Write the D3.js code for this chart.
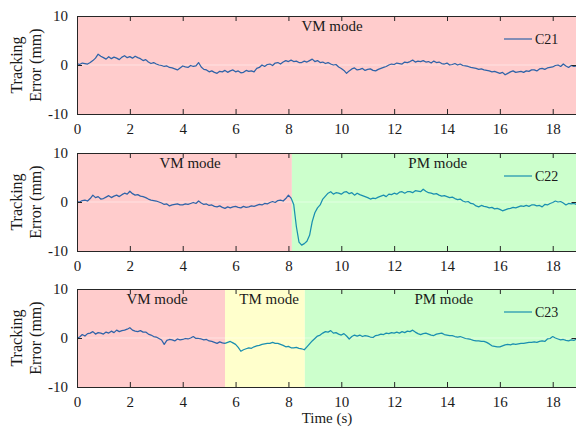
<!DOCTYPE html>
<html><head><meta charset="utf-8">
<script src="https://cdn.jsdelivr.net/npm/d3@7"></script>
<style>
body{margin:0;background:#fff}
svg{display:block}
text{font-family:"Liberation Serif","Times New Roman",serif;fill:#1a1a1a}
</style>
</head><body>
<svg id="chart" width="576" height="428"></svg>
<script>
// ---------- data ----------
const timeStep = 0.1;            // sampling interval (s)
const xTicks = [0, 2, 4, 6, 8, 10, 12, 14, 16, 18];
const yTicks = [-10, 0, 10];
const seriesNames = ["C21", "C22", "C23"];

const c21 = [
  0.3, 0.1, 0.4, 0.3, 0.2, 0.5, 0.9, 1.4, 2.2, 1.8,
  1.5, 1.2, 1.7, 1.3, 1.6, 1.4, 1.1, 1.6, 1.9, 1.5,
  1.7, 1.4, 1.8, 1.5, 1.3, 0.9, 1.1, 0.6, 0.3, 0.5,
  0.2, 0.0, -0.1, -0.3, -0.2, -0.5, -0.6, -0.8, -1.0, -0.6,
  -0.2, -0.4, -0.5, -0.1, -0.3, -0.2, 0.5, -0.4, -0.9, -1.0,
  -1.4, -1.2, -1.5, -1.7, -1.3, -1.4, -1.1, -1.5, -1.2, -1.0,
  -1.4, -1.2, -1.6, -1.5, -1.1, -1.3, -1.2, -1.4, -0.7, -0.5,
  0.0, -0.3, 0.1, 0.2, -0.1, 0.4, 0.5, 0.2, 0.6, 0.9,
  0.7, 1.0, 0.7, 0.8, 0.5, 0.5, 0.8, 0.6, 0.9, 1.2,
  0.7, 0.9, 0.5, 0.6, 0.3, 0.5, 0.2, 0.0, 0.1, -0.4,
  -0.7, -1.1, -1.7, -1.2, -0.8, -0.6, -1.0, -0.9, -0.7, -1.1,
  -0.9, -0.8, -1.1, -1.2, -0.9, -0.7, -0.5, -0.3, 0.0, 0.2,
  0.1, 0.4, 0.3, 0.2, 0.6, 0.5, 0.7, 1.0, 0.6, 0.8,
  0.7, 0.9, 0.6, 0.7, 0.4, 0.8, 0.5, 0.6, 0.3, 0.2,
  0.4, 0.0, 0.1, 0.3, 0.0, 0.2, -0.1, -0.2, -0.3, -0.5,
  -0.6, -0.7, -0.9, -0.8, -1.0, -1.1, -1.2, -1.4, -1.3, -1.5,
  -1.7, -1.5, -2.0, -1.7, -1.4, -1.2, -1.5, -1.4, -1.3, -1.5,
  -1.2, -1.3, -1.0, -1.0, -1.2, -0.8, -0.7, -0.9, -0.6, -0.5,
  -0.4, -0.1, 0.0, -0.3, 0.2, -0.2, -0.5, -0.1, -0.3, -0.2
];
const c22 = [
  0.1, 0.0, 0.3, 0.4, 0.2, 0.7, 1.4, 0.9, 1.1, 0.6,
  0.7, 1.0, 1.3, 0.9, 1.2, 1.4, 1.1, 1.5, 1.8, 1.6,
  2.2, 1.7, 1.4, 1.5, 1.2, 1.1, 0.9, 0.6, 0.4, 0.3,
  0.2, 0.0, -0.2, -0.5, -0.4, -0.8, -0.6, -0.5, -0.4, -0.6,
  -0.6, -0.4, -0.5, -0.3, -0.1, -0.3, 0.2, -0.2, -0.5, -0.4,
  -0.7, -0.6, -0.9, -1.0, -0.8, -1.1, -1.3, -1.0, -1.2, -1.0,
  -0.9, -1.1, -1.2, -0.9, -1.1, -1.0, -0.8, -0.9, -0.7, -0.5,
  -0.6, -0.3, -0.4, -0.1, 0.1, -0.1, 0.3, 0.4, 0.2, 0.7,
  1.4, 0.8, -0.5, -5.0, -8.2, -8.8, -8.5, -8.0, -6.8, -4.0,
  -2.2, -1.2, -0.6, 0.6, 1.2, 1.8, 2.1, 1.6, 1.9, 1.8,
  1.6, 2.0, 2.1, 1.7, 1.9, 1.4, 1.8, 1.5, 1.3, 1.1,
  0.9, 0.6, 0.8, 0.7, 1.0, 1.2, 1.4, 1.1, 1.6, 1.5,
  1.8, 1.6, 2.0, 2.1, 1.8, 2.1, 2.1, 1.9, 2.3, 2.2,
  2.1, 2.6, 2.2, 1.9, 1.8, 1.6, 1.7, 1.4, 1.2, 1.3,
  1.1, 0.9, 1.0, 0.7, 0.5, 0.6, 0.2, 0.0, 0.1, -0.3,
  -0.4, -0.8, -1.0, -0.7, -0.9, -1.0, -1.2, -1.1, -1.4, -1.3,
  -1.5, -1.8, -1.6, -1.4, -1.3, -1.1, -1.2, -1.0, -0.8, -0.9,
  -0.7, -0.9, -0.6, -0.6, -0.8, -0.7, -1.0, -0.5, -0.6, -0.3,
  -0.1, 0.2, 0.0, 0.1, -0.2, -0.6, -0.3, -0.4, -0.3, -0.5
];
const c23 = [
  -0.1, 0.2, 0.7, 0.4, 0.9, 1.0, 1.3, 0.8, 1.1, 1.0,
  0.8, 1.2, 1.0, 1.4, 1.1, 1.6, 1.3, 1.5, 1.6, 1.8,
  2.1, 1.6, 1.4, 1.3, 1.5, 1.2, 1.2, 0.8, 0.6, 0.3,
  0.2, -0.1, -0.4, -1.3, -0.5, -0.3, -0.4, -0.6, -0.2, -0.4,
  -0.3, -0.1, -0.2, 0.0, 0.3, -0.1, -0.1, -0.2, -0.4, -0.3,
  -0.6, -0.7, -0.9, -1.1, -0.8, -1.0, -1.1, -0.9, -0.7, -1.0,
  -1.3, -1.9, -2.7, -2.4, -2.2, -2.0, -2.1, -1.8, -1.6, -1.5,
  -1.3, -1.2, -1.1, -1.1, -0.9, -1.1, -1.1, -1.3, -1.5, -1.8,
  -1.7, -2.0, -2.0, -1.9, -2.1, -2.2, -2.4, -1.8, -1.2, -0.6,
  -0.1, 0.4, 0.6, 1.0, 1.3, 1.2, 1.5, 1.0, 1.1, 0.8,
  0.6, 0.9, 0.4, -0.2, 0.3, 0.6, 0.4, 0.6, 0.3, 0.5,
  0.4, 0.2, 0.1, 0.5, 0.6, 0.8, 0.7, 1.0, 0.9, 1.1,
  1.0, 1.2, 1.0, 1.3, 1.1, 1.4, 1.3, 1.6, 1.2, 0.9,
  0.7, 0.9, 1.0, 0.8, 0.6, 0.5, 0.8, 0.9, 1.0, 0.7,
  0.6, 0.5, 0.5, 0.3, 0.2, 0.3, 0.1, -0.1, -0.2, -0.3,
  -0.5, -0.6, -0.6, -0.7, -0.7, -0.9, -1.2, -1.6, -1.7, -1.8,
  -1.8, -1.6, -1.4, -1.3, -1.4, -1.2, -1.3, -1.2, -1.1, -1.1,
  -1.0, -0.9, -0.9, -0.8, -0.9, -0.7, -0.6, -0.7, -0.2, -0.1,
  0.3, 0.0, -0.2, -0.4, -0.3, -0.5, -0.6, -0.4, -0.5, -0.2
];

// operating modes per panel
const modeLabels1 = ["VM mode"];
const modeStarts1 = [0];
const modeEnds1   = [18.9];
const modeLabelX1 = [9.65];

const modeLabels2 = ["VM mode", "PM mode"];
const modeStarts2 = [0, 8.13];
const modeEnds2   = [8.13, 18.9];
const modeLabelX2 = [4.28, 13.65];

const modeLabels3 = ["VM mode", "TM mode", "PM mode"];
const modeStarts3 = [0, 5.6, 8.62];
const modeEnds3   = [5.6, 8.62, 18.9];
const modeLabelX3 = [3.03, 7.27, 13.88];

// time after which the trace switches to the second colour
const colorSwitch = [null, 8.1, 5.6];

// ---------- styling ----------
const modeColors = {"VM mode": "#FFCCCC", "PM mode": "#CCFFCC", "TM mode": "#FFFFCC"};
const blue = "#2F63A8", teal = "#1A8FB0";
const legendColors = [blue, teal, teal];
const axisColor = "#262626";

const left = 77, right = 576.5;
const panelTops = [16, 153, 289];
const panelH = 98;

const svg = d3.select("#chart");
const x = d3.scaleLinear().domain([0, 18.9]).range([left, right]);

const allSeries = [c21, c22, c23];
const allModes = [
  {labels: modeLabels1, starts: modeStarts1, ends: modeEnds1, lx: modeLabelX1},
  {labels: modeLabels2, starts: modeStarts2, ends: modeEnds2, lx: modeLabelX2},
  {labels: modeLabels3, starts: modeStarts3, ends: modeEnds3, lx: modeLabelX3}
];

allSeries.forEach((vals, p) => {
  const top = panelTops[p];
  const y = d3.scaleLinear().domain([-10, 10]).range([top + panelH, top]);
  const g = svg.append("g");
  const m = allModes[p];

  // shaded mode regions
  m.labels.forEach((lab, i) => {
    g.append("rect")
      .attr("x", x(m.starts[i])).attr("y", top)
      .attr("width", x(m.ends[i]) - x(m.starts[i]))
      .attr("height", panelH)
      .attr("fill", modeColors[lab]);
  });

  // faint zero line
  g.append("line")
    .attr("x1", left).attr("x2", right)
    .attr("y1", y(0)).attr("y2", y(0))
    .attr("stroke", "#ffffff").attr("stroke-opacity", 0.45).attr("stroke-width", 1);

  // mode labels
  m.labels.forEach((lab, i) => {
    g.append("text")
      .attr("x", x(m.lx[i])).attr("y", top + 15)
      .attr("text-anchor", "middle")
      .attr("font-size", 15)
      .text(lab);
  });

  // data trace
  const data = vals.map((v, i) => ({t: +(i * timeStep).toFixed(2), v}));
  const line = d3.line().x(d => x(d.t)).y(d => y(d.v));
  const clipId = "clip" + p;
  svg.append("clipPath").attr("id", clipId).append("rect")
    .attr("x", left).attr("y", top).attr("width", right - left).attr("height", panelH);
  const sw = colorSwitch[p];
  const segs = sw === null ? [[data, blue]]
    : [[data.filter(d => d.t <= sw), blue], [data.filter(d => d.t >= sw), teal]];
  segs.forEach(([seg, col]) => {
    g.append("path").datum(seg)
      .attr("clip-path", `url(#${clipId})`)
      .attr("d", line)
      .attr("fill", "none")
      .attr("stroke", col)
      .attr("stroke-width", 1.25)
      .attr("stroke-linejoin", "round");
  });

  // legend
  const ly = top + 23;
  g.append("line").attr("x1", 504).attr("x2", 532).attr("y1", ly).attr("y2", ly)
    .attr("stroke", legendColors[p]).attr("stroke-width", 1.2);
  g.append("text").attr("x", 535).attr("y", ly).attr("dy", "0.35em")
    .attr("font-size", 14).text(seriesNames[p]);

  // axes (inward ticks, boxed)
  const xb = d3.axisBottom(x).tickValues(xTicks).tickSize(-5).tickPadding(9).tickFormat(d3.format("d"));
  const xt = d3.axisTop(x).tickValues(xTicks).tickSize(-5).tickFormat("");
  const yl = d3.axisLeft(y).tickValues(yTicks).tickSize(-5).tickPadding(9).tickFormat(d => d);
  const yr = d3.axisRight(y).tickValues(yTicks).tickSize(-5).tickFormat("");

  const styleAxis = sel => {
    sel.selectAll("path.domain").attr("stroke", axisColor);
    sel.selectAll(".tick line").attr("stroke", axisColor);
    sel.selectAll("text").attr("font-size", 15)
      .attr("font-family", '"Liberation Serif","Times New Roman",serif').attr("fill", "#1a1a1a");
  };
  g.append("g").attr("transform", `translate(0,${top + panelH})`).call(xb).call(styleAxis);
  g.append("g").attr("transform", `translate(0,${top})`).call(xt).call(styleAxis);
  g.append("g").attr("transform", `translate(${left},0)`).call(yl).call(styleAxis);
  g.append("g").attr("transform", `translate(${right},0)`).call(yr).call(styleAxis);

  // y-axis title
  const cy = top + panelH / 2;
  const yt = g.append("text").attr("transform", `translate(22,${cy}) rotate(-90)`)
    .attr("text-anchor", "middle").attr("font-size", 16);
  yt.append("tspan").attr("x", 0).attr("dy", 0).text("Tracking");
  yt.append("tspan").attr("x", 0).attr("dy", 19).text("Error (mm)");
});

svg.append("text").attr("x", 327).attr("y", 423).attr("text-anchor", "middle")
  .attr("font-size", 15).text("Time (s)");
</script>
</body></html>
